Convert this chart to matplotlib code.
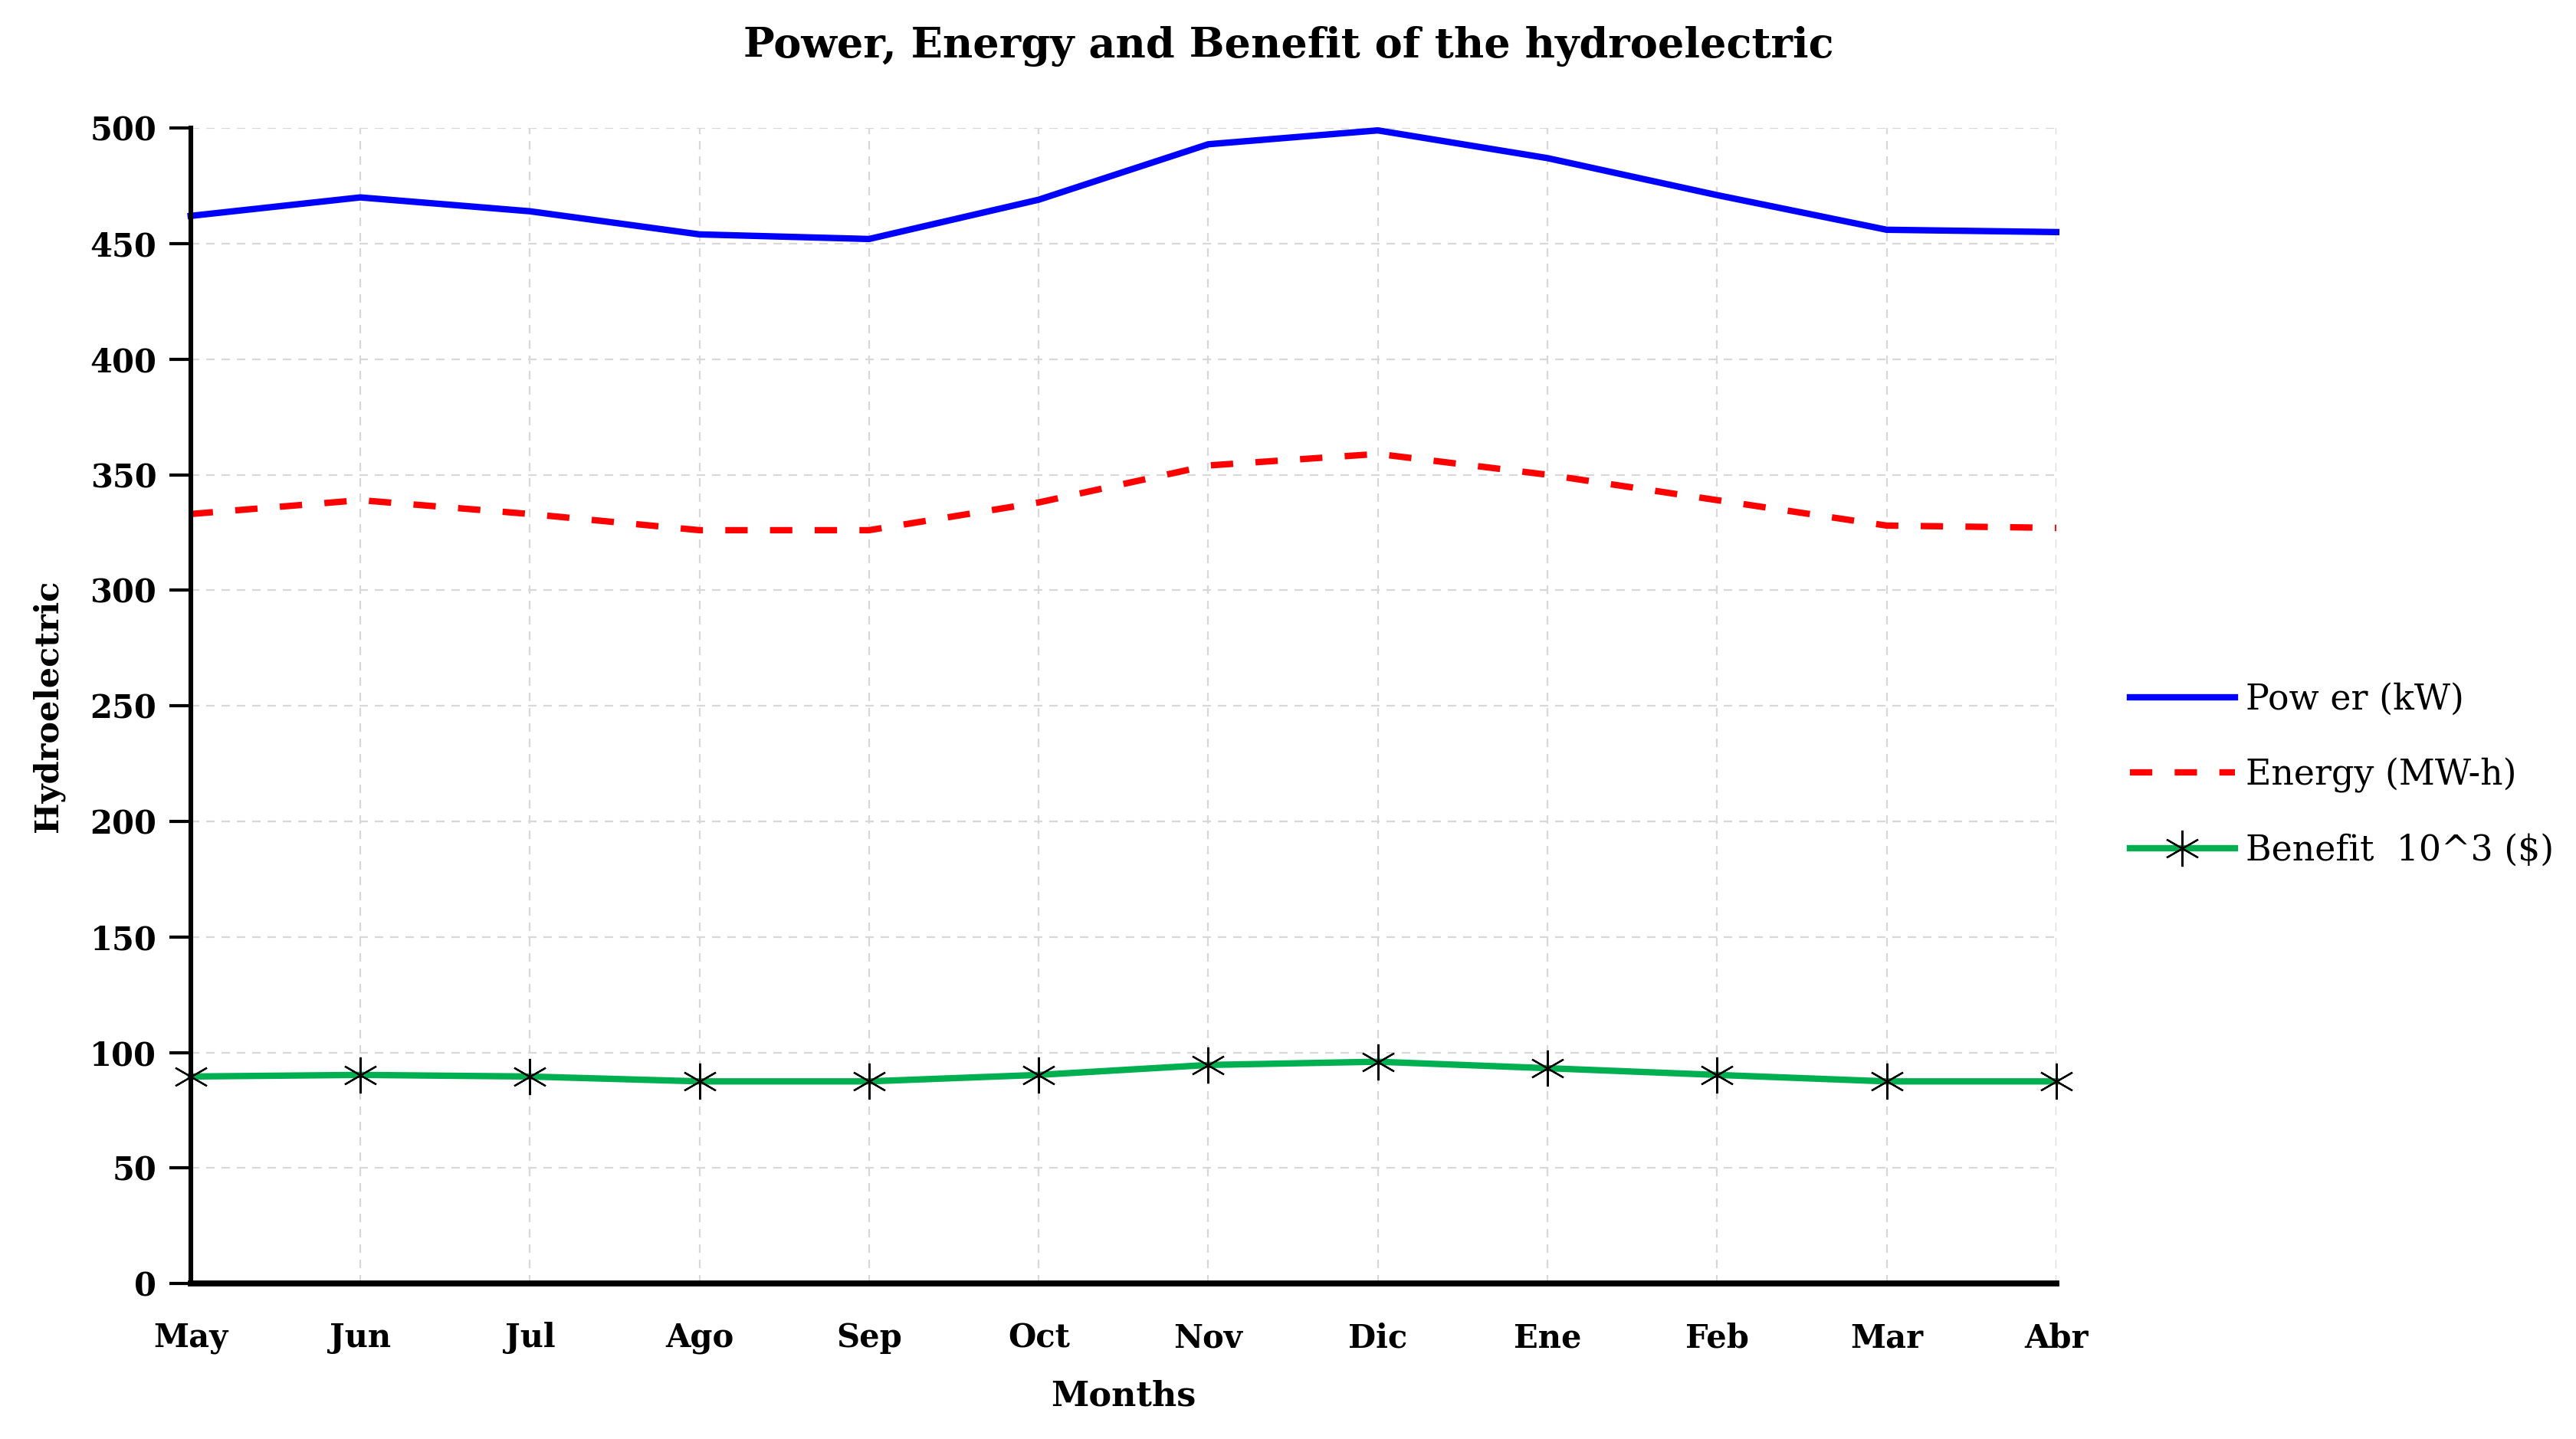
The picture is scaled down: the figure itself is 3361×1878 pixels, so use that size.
import matplotlib.pyplot as plt

# %% Data
months = ["May", "Jun", "Jul", "Ago", "Sep", "Oct", "Nov", "Dic", "Ene", "Feb", "Mar", "Abr"]
power_kw = [462, 470, 464, 454, 452, 469, 493, 499, 487, 471, 456, 455]
energy_mwh = [333, 339, 333, 326, 326, 338, 354, 359, 350, 339, 328, 327]
benefit_k = [89.6, 90.3, 89.6, 87.5, 87.5, 90.3, 94.6, 96.0, 93.2, 90.3, 87.5, 87.5]
y_ticks = [0, 50, 100, 150, 200, 250, 300, 350, 400, 450, 500]

plt.rcParams["font.family"] = ["DejaVu Serif"]

# %% Plot
fig = plt.figure(figsize=(16.81, 9.39), dpi=200)
ax = fig.add_axes([0.074, 0.108, 0.724, 0.803])

x = list(range(len(months)))
ax.plot(x, power_kw, color="#0000FF", lw=3.0, label="Pow er (kW)", clip_on=False)
ax.plot(
    x,
    energy_mwh,
    color="#FF0000",
    lw=3.0,
    linestyle=(0, (3.5, 3.5)),
    label="Energy (MW-h)",
    clip_on=False,
)
ax.plot(
    x,
    benefit_k,
    color="#00B050",
    lw=3.0,
    marker=(6, 2, 0),
    markersize=17,
    markeredgecolor="k",
    markeredgewidth=0.8,
    label="Benefit  10^3 ($)",
    clip_on=False,
)

ax.set_xlim(0, 11)
ax.set_ylim(0, 500)
ax.set_yticks(y_ticks)
ax.set_xticks(x)
ax.set_xticklabels(months, fontweight="bold", fontsize=15)
ax.tick_params(axis="x", length=0, pad=18)
ax.tick_params(axis="y", length=10, width=1.5, direction="out", labelsize=15, pad=6)
for lbl in ax.get_yticklabels():
    lbl.set_fontweight("bold")

ax.grid(True, color="#d8d8d8", linestyle=(0, (5, 4)), linewidth=0.8)
ax.set_axisbelow(True)
for side in ["top", "right"]:
    ax.spines[side].set_visible(False)
ax.spines["left"].set_linewidth(2.2)
ax.spines["bottom"].set_linewidth(2.8)

ax.set_xlabel("Months", fontweight="bold", fontsize=16, labelpad=12)
ax.set_ylabel("Hydroelectric", fontweight="bold", fontsize=15.5, labelpad=12)
fig.suptitle(
    "Power, Energy and Benefit of the hydroelectric",
    fontweight="bold",
    fontsize=19.5,
    y=0.982,
)

ax.legend(
    loc="center left",
    bbox_to_anchor=(1.028, 0.44),
    frameon=False,
    fontsize=16.5,
    handlelength=3.0,
    labelspacing=1.15,
    handletextpad=0.3,
    borderaxespad=0.2,
)

fig.savefig("out.png", dpi=200)
